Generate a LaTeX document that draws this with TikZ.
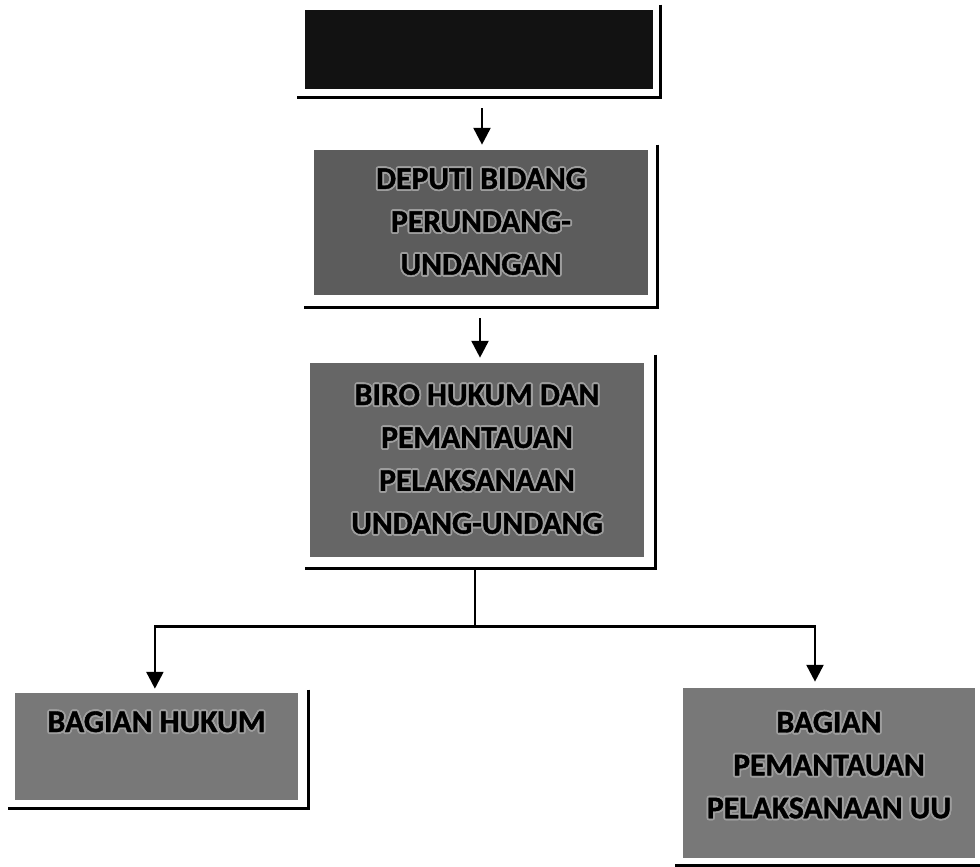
\documentclass[tikz,border=0pt]{standalone}
\usepackage{fontspec}
\setmainfont{Carlito}[BoldFeatures={FakeBold=1.2}]
\usepackage[copies]{contour}
\contourlength{1.3pt}
\contournumber{16}
\usetikzlibrary{arrows.meta, positioning, calc}

\definecolor{boxblack}{gray}{0.07}
\definecolor{boxdark}{gray}{0.36}
\definecolor{boxmid}{gray}{0.40}
\definecolor{boxlight}{gray}{0.47}
\definecolor{halogray}{gray}{0.62}
\newcommand{\halo}[1]{\contour{halogray}{#1}}

\begin{document}
\begin{tikzpicture}[x=0.025cm, y=-0.025cm, >=Triangle,
    unitbox/.style={rectangle, inner sep=0pt, align=center,
      font=\fontsize{22.5}{30.5}\selectfont\bfseries},
    shadowline/.style={line width=2.2pt, black},
    conn/.style={line width=1.9pt, black},
    arr/.style={conn, -{Triangle[length=12pt, width=12pt]}}]
  \useasboundingbox (0,0) rectangle (980,867);

  % Boxes
  \node[unitbox, fill=boxblack, minimum width=8.675cm, minimum height=1.975cm]
    (sekjen) at (479,49.5) {};
  \node[unitbox, fill=boxdark, minimum width=8.325cm, minimum height=3.625cm]
    (deputi) at (481,222.5)
    {\halo{DEPUTI BIDANG}\\\halo{PERUNDANG-}\\\halo{UNDANGAN}};
  \node[unitbox, fill=boxmid, minimum width=8.325cm, minimum height=4.85cm]
    (biro) at (477,460)
    {\halo{BIRO HUKUM DAN}\\\halo{PEMANTAUAN}\\\halo{PELAKSANAAN}\\\halo{UNDANG-UNDANG}};
  \node[unitbox, fill=boxlight, minimum width=7.075cm, text height=0.975cm,
    text depth=1.7cm] (hukum) at (156.5,746.5) {\halo{BAGIAN HUKUM}};
  \node[unitbox, fill=boxlight, minimum width=7.3cm, minimum height=4.25cm,
    text depth=0.4cm] (pantau) at (829,773)
    {\halo{BAGIAN}\\\halo{PEMANTAUAN}\\\halo{PELAKSANAAN UU}};

  % Shadow frames
  \draw[shadowline] ([shift={(8,-5)}]sekjen.north east) |- ([shift={(-8,8)}]sekjen.south west);
  \draw[shadowline] ([shift={(10,-5)}]deputi.north east) |- ([shift={(-10,12)}]deputi.south west);
  \draw[shadowline] ([shift={(12,-8)}]biro.north east) |- ([shift={(-5,11)}]biro.south west);
  \draw[shadowline] ([shift={(10,-3)}]hukum.north east) |- ([shift={(-7,8)}]hukum.south west);
  \draw[shadowline] ([shift={(10,-3)}]pantau.north east) |- ([shift={(-8,7)}]pantau.south west);

  % Connectors
  \draw[arr, shorten <=0.475cm, shorten >=0.125cm] (sekjen.south -| 482,0) -- (deputi.north -| 482,0);
  \draw[arr, shorten <=0.575cm, shorten >=0.125cm] (deputi.south -| 480,0) -- (biro.north -| 480,0);
  \coordinate (split) at ($(biro.south)+(-2,69)$);
  \draw[conn, shorten <=0.275cm] (biro.south -| split) -- (split);
  \draw[arr, shorten >=0.1cm] (split) -| ([xshift=-0.04cm]hukum.north);
  \draw[arr, shorten >=0.15cm] (split) -| ([xshift=-0.35cm]pantau.north);
\end{tikzpicture}
\end{document}
